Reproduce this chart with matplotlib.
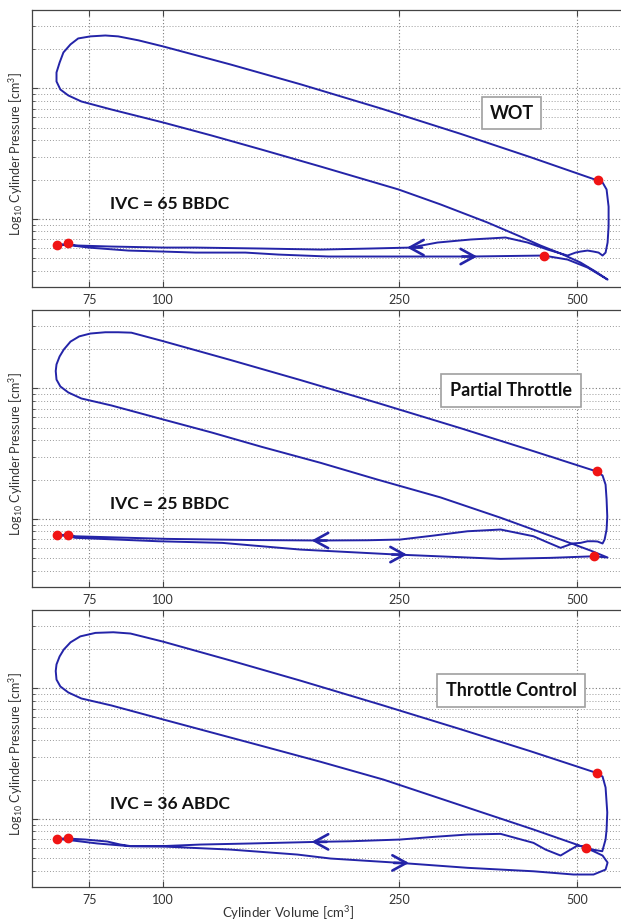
import matplotlib
matplotlib.use("Agg")
import matplotlib.pyplot as plt
from matplotlib.patches import Rectangle
from matplotlib.ticker import LogLocator, NullLocator, FixedLocator, NullFormatter

plt.rcParams['font.family'] = ['Lato', 'DejaVu Sans']
plt.rcParams['mathtext.fontset'] = 'custom'
plt.rcParams['mathtext.rm'] = 'Lato'
plt.rcParams['mathtext.it'] = 'Lato:italic'
plt.rcParams['mathtext.bf'] = 'Lato:bold'

# ---------------- data ----------------
panel_titles = ["WOT", "Partial Throttle", "Throttle Control"]
ivc_labels = ["IVC = 65 BBDC", "IVC = 25 BBDC", "IVC = 36 ABDC"]
x_ticks = [75, 100, 250, 500]
x_tick_labels = ["75", "100", "250", "500"]
x_label = "Cylinder Volume [cm$^{3}$]"
y_label = "Log$_{10}$ Cylinder Pressure [cm$^{3}$]"

# WOT cycle (volume cm^3, pressure), starting at IVC
wot_vol = [438.8, 481.8, 520.7, 562.9,
           537.2, 506.8, 468.8, 433.7, 401.0, 352.9, 293.9, 249.6, 184.3, 146.5, 120.6, 100.0, 81.7, 72.7,
           69.1, 67.0, 66.0, 66.0, 66.8, 67.8, 69.7, 71.8, 75.3, 79.8, 83.9, 90.8, 100.0,
           129.8, 170.5, 232.7, 317.7, 417.2, 541.4,
           552.0, 560.7, 565.1, 565.1, 562.9, 558.5, 552.0, 543.5, 533.0, 520.7, 506.8, 497.0, 481.8,
           445.7, 412.3, 378.5, 330.3, 290.5, 261.5, 223.8, 184.3, 146.5, 113.3, 100.0, 81.7, 71.8, 69.1, 66.2,
           69.1, 74.7, 87.3, 100.0, 113.3, 137.6, 156.5, 190.1, 251.5, 330.3, 438.8]
wot_prs = [0.523, 0.487, 0.423, 0.342,
           0.394, 0.462, 0.542, 0.624, 0.731, 0.937, 1.29, 1.68, 2.52, 3.40, 4.36, 5.48, 6.90, 7.95,
           8.84, 9.82, 11.32, 13.27, 15.8, 18.9, 21.8, 24.2, 25.1, 25.5, 25.1, 23.4, 21.0,
           15.29, 10.77, 7.04, 4.49, 2.97, 1.97,
           1.90, 1.68, 1.24, 0.873, 0.658, 0.551, 0.523, 0.551, 0.561, 0.571, 0.561, 0.551, 0.523,
           0.581, 0.658, 0.719, 0.694, 0.658, 0.602, 0.592, 0.581, 0.592, 0.602, 0.602, 0.613, 0.624, 0.635, 0.635,
           0.630, 0.602, 0.571, 0.561, 0.551, 0.551, 0.532, 0.514, 0.514, 0.514, 0.523]
wot_dot_vol = [66.2, 69.1, 438.8, 541.4]
wot_dot_prs = [0.635, 0.647, 0.523, 1.97]
wot_arrow_vol = [258.0, 339.0]
wot_arrow_prs = [0.602, 0.514]
wot_arrow_dir = [-1, 1]

# Partial throttle
pt_vol = [533.0, 562.9,
          526.9, 468.8, 371.2, 293.9, 230.0, 184.3, 146.5, 120.6, 100.0, 81.7, 72.7,
          69.1, 67.0, 66.0, 65.8, 66.0, 66.8, 67.9, 69.7, 72.1, 75.3, 79.8, 83.9, 88.3, 99.8,
          129.8, 170.5, 232.7, 317.7, 417.2, 539.3,
          552.0, 558.5, 560.7, 562.2, 560.7, 556.4, 552.0,
          541.4, 533.0, 520.7, 506.8, 491.2, 468.8, 442.2, 422.0, 371.2, 326.5, 286.0, 251.5, 221.2,
          182.1, 140.3, 101.2, 71.0, 69.1, 66.2,
          69.1, 71.0, 98.1, 125.8, 170.5, 248.3, 371.2, 450.9, 533.0]
pt_prs = [0.516, 0.505,
          0.571, 0.694, 1.02, 1.46, 2.00, 2.69, 3.57, 4.60, 5.78, 7.41, 8.38,
          9.32, 10.36, 11.7, 13.6, 15.3, 17.6, 19.9, 22.9, 25.1, 26.4, 27.0, 27.0, 26.8, 23.1,
          16.55, 11.60, 7.63, 4.96, 3.36, 2.31,
          2.15, 1.83, 1.41, 1.04, 0.828, 0.694, 0.647,
          0.670, 0.673, 0.673, 0.654, 0.647, 0.599, 0.670, 0.735, 0.828, 0.803, 0.744, 0.694, 0.685,
          0.682, 0.688, 0.702, 0.735, 0.758, 0.748,
          0.738, 0.715, 0.673, 0.654, 0.581, 0.532, 0.493, 0.502, 0.516]
pt_dot_vol = [66.2, 69.1, 533.0, 539.3]
pt_dot_prs = [0.748, 0.758, 0.516, 2.31]
pt_arrow_vol = [178.0, 258.0]
pt_arrow_prs = [0.682, 0.532]
pt_arrow_dir = [-1, 1]

# Throttle control
tc_vol = [516.7, 493.1, 422.0, 326.5, 235.4, 184.3, 146.5, 120.6, 100.0, 81.7, 72.7,
          69.1, 67.0, 66.0, 65.8, 66.0, 66.8, 67.9, 69.7, 72.4, 76.8, 82.3, 88.0, 99.8,
          129.8, 170.5, 232.7, 317.7, 417.2, 539.3,
          552.0, 558.5, 562.2, 560.7, 558.5, 551.4,
          531.0, 514.7, 500.8, 487.4, 468.8, 442.2, 422.0, 371.2, 326.5, 286.0, 251.5, 207.0,
          182.1, 170.5, 140.3, 115.5, 100.0, 88.0, 84.6, 80.4, 73.8, 70.5, 69.1, 66.2,
          69.7, 77.4, 88.0, 100.0, 129.8, 168.5, 191.6, 251.5, 326.5, 422.0, 493.1, 533.0,
          558.5, 562.9, 552.0, 533.0, 516.7]
tc_prs = [0.599, 0.647, 0.828, 1.22, 2.00, 2.74, 3.63, 4.60, 5.78, 7.41, 8.38,
          9.32, 10.36, 11.7, 13.6, 15.3, 17.6, 19.9, 22.6, 25.1, 26.7, 27.0, 26.4, 22.9,
          16.40, 11.48, 7.52, 4.87, 3.30, 2.25,
          2.11, 1.74, 1.12, 0.828, 0.694, 0.564,
          0.581, 0.613, 0.624, 0.581, 0.523, 0.581, 0.654, 0.767, 0.758, 0.727, 0.694, 0.673,
          0.666, 0.661, 0.647, 0.635, 0.618, 0.618, 0.635, 0.670, 0.694, 0.702, 0.710, 0.702,
          0.685, 0.647, 0.616, 0.613, 0.581, 0.532, 0.496, 0.459, 0.421, 0.396, 0.374, 0.374,
          0.408, 0.462, 0.523, 0.564, 0.599]
tc_dot_vol = [66.2, 69.1, 516.7, 539.3]
tc_dot_prs = [0.702, 0.710, 0.599, 2.25]
tc_arrow_vol = [178.0, 260.0]
tc_arrow_prs = [0.666, 0.459]
tc_arrow_dir = [-1, 1]

panels = [
    (wot_vol, wot_prs, wot_dot_vol, wot_dot_prs, wot_arrow_vol, wot_arrow_prs, wot_arrow_dir),
    (pt_vol, pt_prs, pt_dot_vol, pt_dot_prs, pt_arrow_vol, pt_arrow_prs, pt_arrow_dir),
    (tc_vol, tc_prs, tc_dot_vol, tc_dot_prs, tc_arrow_vol, tc_arrow_prs, tc_arrow_dir),
]

# ---------------- layout / style ----------------
W, H = 621, 921
line_color = '#2424a8'
dot_color = '#f01414'
box_pos = [(0.7606, 0.5704, 0.0987, 0.1144),
           (0.6905, 0.6487, 0.2375, 0.1192),
           (0.6845, 0.6509, 0.2501, 0.1181)]

fig = plt.figure(figsize=(W / 100, H / 100), dpi=100)

for i, (vol, prs, dv, dp, av, ap, ad) in enumerate(panels):
    bottom = 1 - (287 + 300 * i) / H
    ax = fig.add_axes([32 / W, bottom, 592 / W, 277 / H])
    ax.set_xscale('log')
    ax.set_yscale('log')
    ax.set_xlim(60, 600)
    ax.set_ylim(0.3, 40)

    ax.xaxis.set_major_locator(FixedLocator(x_ticks))
    ax.set_xticklabels(x_tick_labels)
    ax.xaxis.set_minor_locator(NullLocator())
    ax.yaxis.set_major_locator(LogLocator(base=10))
    ax.yaxis.set_minor_locator(LogLocator(base=10, subs=range(2, 10)))
    ax.yaxis.set_major_formatter(NullFormatter())
    ax.yaxis.set_minor_formatter(NullFormatter())

    ax.grid(True, which='major', axis='both', linestyle=(0, (1, 2)), color='#7a7a7a', lw=0.8)
    ax.grid(True, which='minor', axis='y', linestyle=(0, (1, 2)), color='#9a9a9a', lw=0.7)
    ax.set_axisbelow(True)

    ax.tick_params(which='both', direction='in', top=True, right=False, color='#444444')
    ax.tick_params(which='major', length=4, width=0.8)
    ax.tick_params(which='minor', length=2, width=0.6)
    ax.tick_params(axis='x', labelsize=9, labelcolor='#333333', pad=5)
    for s in ['left', 'bottom', 'top']:
        ax.spines[s].set_color('#444444')
        ax.spines[s].set_linewidth(0.9)
    ax.spines['right'].set_visible(False)

    ax.plot(vol, prs, color=line_color, lw=1.4, zorder=3, solid_joinstyle='round')
    ax.plot(dv, dp, 'o', color=dot_color, ms=6, mec=dot_color, zorder=5)

    for v, p, d in zip(av, ap, ad):
        tail = v * (1.06 if d < 0 else 1 / 1.06)
        ax.annotate('', xy=(v, p), xytext=(tail, p),
                    arrowprops=dict(arrowstyle='->,head_length=1.0,head_width=0.55',
                                    color=line_color, lw=1.9, shrinkA=0, shrinkB=0),
                    zorder=4)

    bx, by, bw, bh = box_pos[i]
    ax.add_patch(Rectangle((bx, by), bw, bh, transform=ax.transAxes, facecolor='white',
                           edgecolor='#a0a0a0', lw=1.2, zorder=6))
    ax.text(bx + bw / 2, by + bh / 2, panel_titles[i], transform=ax.transAxes,
            ha='center', va='center', fontsize=13, fontweight='bold', color='#111111', zorder=7)

    ax.text(0.1313, 0.299, ivc_labels[i], transform=ax.transAxes, ha='left', va='center',
            fontsize=12.5, fontweight='bold', color='#111111', zorder=7)

    ax.text(-0.027, 0.48, y_label, transform=ax.transAxes, rotation=90, ha='center',
            va='center', fontsize=9, color='#333333')

fig.text(288 / W, 1 - 913 / H, x_label, ha='center', va='center', fontsize=9.5, color='#333333')

fig.savefig('out.png', dpi=100)
